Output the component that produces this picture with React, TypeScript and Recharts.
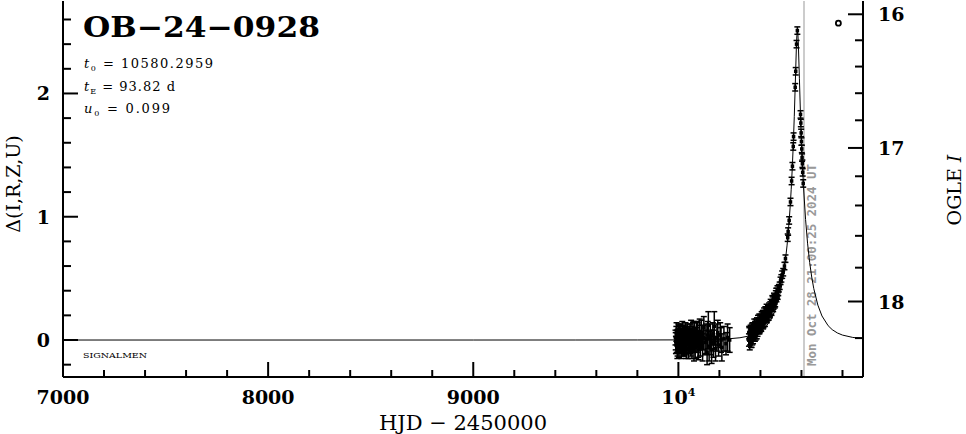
import React from "react";
import {
  ComposedChart,
  Line,
  Scatter,
  XAxis,
  YAxis,
  ErrorBar,
  ReferenceLine,
  ReferenceDot,
} from "recharts";

// OGLE I photometry, [HJD - 2450000, delta mag, error]
const season2023: [number, number, number][] = [
  [9986, 0.02, 0.06], [9987, -0.01, 0.07], [9988, -0.04, 0.07], [9990, 0.05, 0.06],
  [9991, 0.08, 0.06], [9992, -0.02, 0.08], [9994, 0.03, 0.05], [9995, -0.08, 0.07],
  [9996, -0.06, 0.07], [9998, 0.01, 0.06], [9999, 0.04, 0.07], [10000, 0.06, 0.07],
  [10002, -0.03, 0.06], [10003, -0.06, 0.08], [10004, 0.04, 0.08], [10006, -0.05, 0.06],
  [10007, 0.06, 0.06], [10008, 0.02, 0.07], [10010, -0.01, 0.05], [10011, -0.04, 0.07],
  [10012, 0.07, 0.06], [10014, -0.07, 0.08], [10015, 0.01, 0.08], [10016, 0.03, 0.06],
  [10018, -0.02, 0.07], [10019, 0.08, 0.07], [10020, 0.05, 0.06], [10022, -0.04, 0.07],
  [10023, -0.07, 0.06], [10024, 0.0, 0.08], [10026, 0.06, 0.06], [10027, 0.03, 0.08],
  [10028, -0.06, 0.07], [10030, 0.02, 0.06], [10031, -0.05, 0.07], [10033, -0.03, 0.07],
  [10035, 0.07, 0.07], [10036, 0.04, 0.06], [10039, -0.08, 0.07], [10040, -0.02, 0.08],
  [10042, 0.01, 0.08], [10044, 0.06, 0.07], [10045, 0.05, 0.06], [10048, -0.04, 0.07],
  [10049, -0.07, 0.08], [10051, 0.03, 0.06], [10053, 0.04, 0.07], [10054, -0.02, 0.09],
  [10057, 0.06, 0.07], [10058, -0.03, 0.08], [10060, -0.05, 0.08], [10062, 0.08, 0.08],
  [10063, 0.02, 0.06], [10066, -0.07, 0.08], [10067, -0.01, 0.09], [10069, 0.04, 0.07],
  [10071, 0.06, 0.08], [10072, 0.0, 0.09], [10075, -0.03, 0.07], [10076, -0.08, 0.09],
  [10078, 0.07, 0.08], [10080, 0.02, 0.08], [10082, -0.06, 0.09], [10086, 0.03, 0.07],
  [10088, 0.06, 0.09], [10090, -0.02, 0.08], [10094, 0.05, 0.09], [10096, -0.05, 0.09],
  [10098, -0.08, 0.08], [10102, 0.02, 0.1], [10104, 0.07, 0.1], [10107, -0.04, 0.09],
  [10112, 0.06, 0.1], [10118, -0.06, 0.11], [10121, 0.02, 0.1], [10124, 0.1, 0.09],
  [10130, -0.02, 0.1], [10135, 0.01, 0.12], [10140, -0.1, 0.1], [10143, 0.04, 0.11],
  [10146, 0.12, 0.11], [10150, -0.05, 0.12], [10156, 0.03, 0.1], [10159, -0.02, 0.1],
  [10162, -0.08, 0.11], [10168, 0.05, 0.09], [10171, -0.03, 0.11], [10175, 0.11, 0.12],
  [10181, -0.07, 0.1], [10188, 0.02, 0.11], [10192, 0.06, 0.1], [10196, -0.04, 0.09],
  [10204, 0.04, 0.1], [10208, 0.0, 0.1], [10212, -0.06, 0.11], [10222, 0.01, 0.1],
  [10232, -0.03, 0.09], [10240, 0.02, 0.11], [10250, 0.0, 0.1],
];

const season2024: [number, number, number][] = [
  [10344, 0.0, 0.05], [10345, 0.06, 0.05], [10346, 0.05, 0.05], [10348, -0.03, 0.05],
  [10349, 0.01, 0.05], [10350, 0.03, 0.04], [10352, 0.07, 0.05], [10353, 0.04, 0.05],
  [10354, -0.01, 0.05], [10356, 0.04, 0.04], [10357, -0.01, 0.05], [10358, 0.08, 0.05],
  [10360, 0.01, 0.05], [10361, 0.09, 0.05], [10362, 0.06, 0.04], [10364, 0.02, 0.05],
  [10365, 0.09, 0.05], [10367, 0.07, 0.05], [10368, 0.03, 0.04], [10370, 0.12, 0.05],
  [10371, 0.07, 0.05], [10373, 0.04, 0.05], [10374, 0.11, 0.04], [10376, 0.1, 0.05],
  [10377, 0.05, 0.05], [10379, 0.13, 0.04], [10380, 0.09, 0.04], [10382, 0.06, 0.05],
  [10383, 0.13, 0.05], [10385, 0.1, 0.04], [10386, 0.07, 0.04], [10388, 0.15, 0.05],
  [10389, 0.11, 0.05], [10391, 0.09, 0.04], [10392, 0.14, 0.04], [10394, 0.16, 0.05],
  [10395, 0.09, 0.04], [10397, 0.1, 0.04], [10398, 0.13, 0.05], [10400, 0.17, 0.04],
  [10401, 0.16, 0.04], [10403, 0.13, 0.05], [10404, 0.11, 0.04], [10406, 0.19, 0.04],
  [10407, 0.15, 0.04], [10409, 0.14, 0.04], [10410, 0.18, 0.04], [10412, 0.2, 0.04],
  [10413, 0.13, 0.04], [10415, 0.15, 0.05], [10416, 0.17, 0.04], [10418, 0.22, 0.04],
  [10419, 0.2, 0.04], [10421, 0.18, 0.04], [10422, 0.15, 0.04], [10424, 0.23, 0.04],
  [10425, 0.19, 0.04], [10427, 0.19, 0.04], [10428, 0.22, 0.04], [10430, 0.25, 0.04],
  [10431, 0.18, 0.04], [10433, 0.2, 0.04], [10434, 0.21, 0.04], [10437, 0.24, 0.04],
  [10440, 0.2, 0.04], [10442, 0.26, 0.04], [10444, 0.23, 0.04], [10446, 0.22, 0.04],
  [10448, 0.27, 0.04], [10450, 0.29, 0.04], [10452, 0.25, 0.04], [10454, 0.24, 0.04],
  [10456, 0.28, 0.04], [10458, 0.32, 0.04], [10460, 0.31, 0.04], [10462, 0.27, 0.04],
  [10464, 0.29, 0.04], [10466, 0.34, 0.04], [10468, 0.33, 0.04], [10470, 0.3, 0.04],
  [10472, 0.31, 0.04], [10475, 0.36, 0.04], [10477, 0.38, 0.04], [10478, 0.34, 0.03],
  [10481, 0.38, 0.04], [10483, 0.4, 0.04], [10484, 0.36, 0.03], [10487, 0.4, 0.04],
  [10490, 0.42, 0.03], [10494, 0.44, 0.03], [10498, 0.48, 0.03], [10502, 0.5, 0.03],
  [10506, 0.53, 0.03], [10511, 0.55, 0.03], [10517, 0.6, 0.03], [10522, 0.66, 0.03],
  [10533, 0.83, 0.03], [10535, 0.88, 0.03], [10540, 0.97, 0.03], [10546.5, 1.12, 0.03],
  [10552, 1.29, 0.03], [10556, 1.41, 0.03], [10560, 1.57, 0.03], [10561.5, 1.65, 0.03],
  [10569.5, 2.05, 0.03], [10572, 2.18, 0.03], [10576, 2.4, 0.03], [10580, 2.51, 0.03],
  [10595.5, 1.83, 0.03], [10597, 1.76, 0.03], [10598.5, 1.68, 0.03], [10600, 1.61, 0.03],
  [10601.5, 1.55, 0.03], [10603, 1.48, 0.03], [10604.5, 1.43, 0.03], [10606, 1.36, 0.03],
  [10608.5, 1.27, 0.03],
];

// PSPL model: t0 = 10580.2959, tE = 93.82 d, u0 = 0.099
const modelT = [
  7000, 9000, 9500, 9800, 10000, 10100, 10200, 10250, 10300, 10350, 10400, 10430,
  10450, 10470, 10490, 10500, 10510, 10520, 10530, 10540, 10545, 10550, 10555, 10560,
  10565, 10570, 10575, 10577.5, 10580.3, 10582.5, 10585, 10590, 10595, 10600, 10605,
  10610, 10620, 10630, 10640, 10650, 10660, 10680, 10700, 10730, 10750, 10775, 10800,
  10850, 10900,
];
const modelD = [
  0, 0, 0.0001, 0.0005, 0.001, 0.0027, 0.0064, 0.0106, 0.0183, 0.0344, 0.0712, 0.115,
  0.162, 0.232, 0.339, 0.412, 0.504, 0.621, 0.77, 0.964, 1.084, 1.223, 1.387, 1.582,
  1.814, 2.085, 2.364, 2.468, 2.515, 2.485, 2.392, 2.119, 1.844, 1.607, 1.409,
  1.242, 0.978, 0.78, 0.629, 0.511, 0.417, 0.283, 0.195, 0.116, 0.084, 0.0573, 0.04,
  0.021, 0.0119,
];

const hjdTicks = [
  7000, 7200, 7400, 7600, 7800, 8000, 8200, 8400, 8600, 8800, 9000, 9200, 9400, 9600,
  9800, 10000, 10200, 10400, 10600, 10800,
];
const deltaTicks = [-0.2, 0, 0.2, 0.4, 0.6, 0.8, 1, 1.2, 1.4, 1.6, 1.8, 2, 2.2, 2.4, 2.6];
const magTicks = [16, 16.2, 16.4, 16.6, 16.8, 17, 17.2, 17.4, 17.6, 17.8, 18, 18.2];

const eventName = "OB\u221224\u22120928";
const nowHjd = 10612.375;
const nowLabel = "Mon Oct 28 21:00:25 2024 UT";

const obs = [...season2023, ...season2024].map(([t, d, err]) => ({ t, d, err }));
const model = modelT.map((t, i) => ({ t, d: modelD[i] }));

// OGLE I mag -> delta scale (baseline 18.21, blending fs 0.64)
const magToDelta = (m: number) =>
  2.5 * Math.log10((Math.pow(10, 0.4 * (18.21 - m)) - 1) / 0.64 + 1);

const serif = "'DejaVu Serif', serif";

const BottomTick = (props: any) => {
  const { x, y, payload } = props;
  const v = payload.value;
  const major = v % 1000 === 0;
  return (
    <g>
      <line x1={x} y1={y} x2={x} y2={y - (major ? 15 : 7)} stroke="#000" strokeWidth={2} />
      {major && (
        <text x={x} y={y + 27} textAnchor="middle" fontFamily={serif} fontWeight="bold" fontSize={19}>
          {v === 10000 ? (
            <>
              <tspan>10</tspan>
              <tspan dy={-8} fontSize={11}>4</tspan>
            </>
          ) : (
            v
          )}
        </text>
      )}
    </g>
  );
};

const TopTick = (props: any) => {
  const { x, y, payload } = props;
  const major = payload.value % 1000 === 0;
  return <line x1={x} y1={y} x2={x} y2={y + (major ? 15 : 7)} stroke="#000" strokeWidth={2} />;
};

const LeftTick = (props: any) => {
  const { x, y, payload } = props;
  const major = Number.isInteger(payload.value);
  return (
    <g>
      <line x1={x} y1={y} x2={x + (major ? 15 : 8)} y2={y} stroke="#000" strokeWidth={2} />
      {major && (
        <text x={x - 13} y={y + 7} textAnchor="end" fontFamily={serif} fontWeight="bold" fontSize={19}>
          {payload.value}
        </text>
      )}
    </g>
  );
};

const RightTick = (props: any) => {
  const { x, y, index } = props;
  const m = magTicks[index];
  const major = Number.isInteger(m);
  return (
    <g>
      <line x1={x} y1={y} x2={x - (major ? 15 : 8)} y2={y} stroke="#000" strokeWidth={2} />
      {major && (
        <text x={x + 15} y={y + 7} textAnchor="start" fontFamily={serif} fontWeight="bold" fontSize={19}>
          {m}
        </text>
      )}
    </g>
  );
};

const Dot = (props: any) => {
  const { cx, cy } = props;
  if (cx == null || cy == null) return null;
  return <rect x={cx - 1.75} y={cy - 1.75} width={3.5} height={3.5} fill="#000" />;
};

const NowLabel = (props: any) => {
  const x = props.viewBox ? props.viewBox.x : 0;
  return (
    <text
      transform={`translate(${x + 12},366) rotate(-90)`}
      fontFamily="'DejaVu Sans Mono', monospace"
      fontWeight="bold"
      fontSize={12}
      fill="#999"
      textLength={202}
      lengthAdjust="spacingAndGlyphs"
    >
      {nowLabel}
    </text>
  );
};

export default function App() {
  return (
    <div style={{ position: "absolute", left: 0, top: 0, width: 966, height: 434, background: "#fff" }}>
      <ComposedChart width={966} height={434} margin={{ top: 1, right: 0, bottom: 0, left: 0 }}>
        <XAxis
          dataKey="t"
          type="number"
          domain={[7000, 10900]}
          allowDataOverflow
          ticks={hjdTicks}
          interval={0}
          height={57}
          tickSize={0}
          tickMargin={0}
          tickLine={false}
          tick={<BottomTick />}
          axisLine={{ stroke: "#000", strokeWidth: 2 }}
        />
        <XAxis
          xAxisId="top"
          orientation="top"
          dataKey="t"
          type="number"
          domain={[7000, 10900]}
          allowDataOverflow
          ticks={hjdTicks}
          interval={0}
          height={0}
          tickSize={0}
          tickMargin={0}
          tickLine={false}
          tick={<TopTick />}
          axisLine={{ stroke: "#000", strokeWidth: 2 }}
        />
        <YAxis
          type="number"
          domain={[-0.3, 2.75]}
          allowDataOverflow
          ticks={deltaTicks}
          interval={0}
          width={63}
          tickSize={0}
          tickMargin={0}
          tickLine={false}
          tick={<LeftTick />}
          axisLine={{ stroke: "#000", strokeWidth: 2 }}
        />
        <YAxis
          yAxisId="right"
          orientation="right"
          type="number"
          domain={[-0.3, 2.75]}
          allowDataOverflow
          ticks={magTicks.map(magToDelta)}
          interval={0}
          width={103}
          tickSize={0}
          tickMargin={0}
          tickLine={false}
          tick={<RightTick />}
          axisLine={{ stroke: "#000", strokeWidth: 2 }}
        />
        <ReferenceLine x={nowHjd} stroke="#999" strokeWidth={1} label={<NowLabel />} />
        <Scatter data={obs} dataKey="d" shape={<Dot />} isAnimationActive={false}>
          <ErrorBar dataKey="err" direction="y" width={3} stroke="#000" strokeWidth={1.5} isAnimationActive={false} />
        </Scatter>
        <Line
          data={model}
          dataKey="d"
          type="linear"
          dot={false}
          stroke="#000"
          strokeWidth={1}
          isAnimationActive={false}
        />
        <ReferenceDot x={10780} y={2.57} r={2.5} fill="#fff" stroke="#000" strokeWidth={1.8} />
      </ComposedChart>
      <svg
        width={966}
        height={434}
        style={{ position: "absolute", left: 0, top: 0, pointerEvents: "none" }}
        fontFamily={serif}
      >
        <text x={83} y={37} fontWeight="bold" fontSize={28} textLength={237} lengthAdjust="spacingAndGlyphs">
          {eventName}
        </text>
        <text x={84} y={68} fontSize={13} textLength={129} lengthAdjust="spacing">
          <tspan fontStyle="italic">t</tspan>
          <tspan fontSize={8} dy={3}>0</tspan>
          <tspan dy={-3}> = 10580.2959</tspan>
        </text>
        <text x={84} y={91} fontSize={13} textLength={91} lengthAdjust="spacing">
          <tspan fontStyle="italic">t</tspan>
          <tspan fontSize={8} dy={3}>E</tspan>
          <tspan dy={-3}> = 93.82 d</tspan>
        </text>
        <text x={84} y={113} fontSize={13} textLength={86} lengthAdjust="spacing">
          <tspan fontStyle="italic">u</tspan>
          <tspan fontSize={8} dy={3}>0</tspan>
          <tspan dy={-3}> = 0.099</tspan>
        </text>
        <text x={83} y={358} fontSize={8} textLength={64} lengthAdjust="spacingAndGlyphs">
          SIGNALMEN
        </text>
        <text x={463} y={430} textAnchor="middle" fontSize={21}>
          HJD {"\u2212"} 2450000
        </text>
        <text transform="translate(20,184) rotate(-90)" textAnchor="middle" fontSize={19}>
          {"\u0394(I,R,Z,U)"}
        </text>
        <text transform="translate(961,190) rotate(-90)" textAnchor="middle" fontSize={19}>
          OGLE <tspan fontStyle="italic">I</tspan>
        </text>
      </svg>
    </div>
  );
}
